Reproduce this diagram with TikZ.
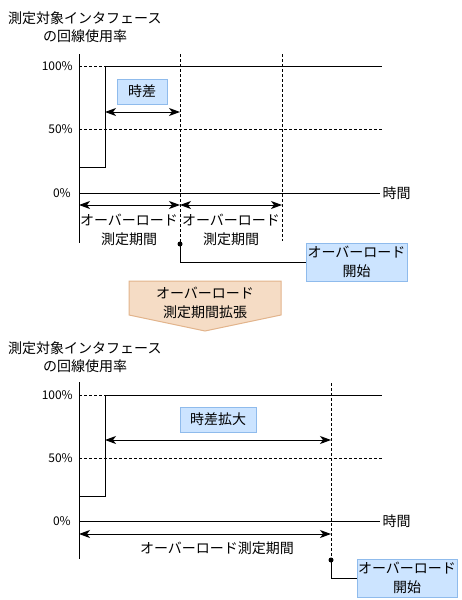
\documentclass[tikz,border=0pt]{standalone}
\usepackage{fontspec}
\setmainfont{Noto Sans CJK JP}
\usetikzlibrary{arrows.meta}
\definecolor{NoteBlue}{HTML}{CCE4FF}
\definecolor{NoteBlueEdge}{HTML}{8FBBEC}
\definecolor{StepPeach}{HTML}{F5DCC5}
\definecolor{StepPeachEdge}{HTML}{E2B48C}

\tikzset{
  axisline/.style={line width=1pt},
  gridline/.style={line width=0.9pt,dash pattern=on 2.5pt off 2.5pt},
  span/.style={line width=1pt,{Stealth[length=11pt,width=8pt,inset=3pt]}-{Stealth[length=11pt,width=8pt,inset=3pt]}},
  note/.style={draw=NoteBlueEdge,fill=NoteBlue,line width=1pt,inner sep=0pt,align=center},
  pct/.style={anchor=east,inner sep=0pt,font=\fontsize{12}{14}\selectfont},
  txt/.style={align=center,inner sep=0pt},
}

\begin{document}
\begin{tikzpicture}[x=1pt,y=-1pt,font=\fontsize{14}{19}\selectfont]
  \useasboundingbox (0,0) rectangle (461,600);
  % upper chart
  \node[txt,anchor=west] (titleA) at (8,18) {測定対象インタフェース};
  \node[txt,anchor=west] (titleB) at (43,36) {の回線使用率};
  \node[pct] (fullA) at (73,66) {100\%};
  \node[pct] (halfA) at (73,129) {50\%};
  \node[pct] (zeroA) at (71,193) {0\%};
  \draw[gridline] (79,66) -- (105,66);
  \draw[gridline] (79,129) -- (382,129);
  \draw[gridline] (180,54) -- (180,244);
  \draw[gridline] (282,54) -- (282,241);
  \draw[axisline] (79,54) -- (79,243);
  \draw[axisline] (79,193) -- (380,193) node[anchor=west,inner sep=2pt] (timeA) {時間};
  \draw[axisline] (79,167) -- (105,167) -- (105,66) -- (382,66);
  \node[note,minimum width=50pt,minimum height=25pt] (lagA) at (142,91.5) {時差};
  \draw[span] (105,112) -- (180,112);
  \draw[span] (79,205) -- (180,205);
  \draw[span] (180,205) -- (282,205);
  \node[txt] (periodA) at (129,229.5) {オーバーロード\\測定期間};
  \node[txt] (periodB) at (231,229.5) {オーバーロード\\測定期間};
  \fill (180,244) circle (2.5pt) coordinate (startA);
  \node[note,minimum width=101pt,minimum height=38pt] (boxA) at (356.5,262) {オーバーロード\\開始};
  \draw[line width=1pt] (startA) |- (boxA.west);
  % step arrow
  \draw[StepPeachEdge,fill=StepPeach,line width=1pt]
    (129,281) -- (281,281) -- (281,315) -- (205,331) -- (129,315) -- cycle;
  \node[txt] (stretch) at (205,303) {オーバーロード\\測定期間拡張};
  % lower chart
  \node[txt,anchor=west] (titleC) at (8,348) {測定対象インタフェース};
  \node[txt,anchor=west] (titleD) at (43,366) {の回線使用率};
  \node[pct] (fullB) at (73,395) {100\%};
  \node[pct] (halfB) at (73,458) {50\%};
  \node[pct] (zeroB) at (71,521) {0\%};
  \draw[gridline] (79,395) -- (105,395);
  \draw[gridline] (79,458) -- (382,458);
  \draw[gridline] (331,383) -- (331,560);
  \draw[axisline] (79,382) -- (79,559);
  \draw[axisline] (79,521) -- (380,521) node[anchor=west,inner sep=2pt] (timeB) {時間};
  \draw[axisline] (79,496) -- (105,496) -- (105,395) -- (382,395);
  \node[note,minimum width=76pt,minimum height=25pt] (lagB) at (218,419.5) {時差拡大};
  \draw[span] (105,440) -- (331,440);
  \draw[span] (79,534) -- (331,534);
  \node[txt] (periodC) at (217,548) {オーバーロード測定期間};
  \fill (331,560) circle (2.5pt) coordinate (startB);
  \node[note,minimum width=100pt,minimum height=38pt] (boxB) at (407,578) {オーバーロード\\開始};
  \draw[line width=1pt] (startB) |- (boxB.west);
\end{tikzpicture}
\end{document}
